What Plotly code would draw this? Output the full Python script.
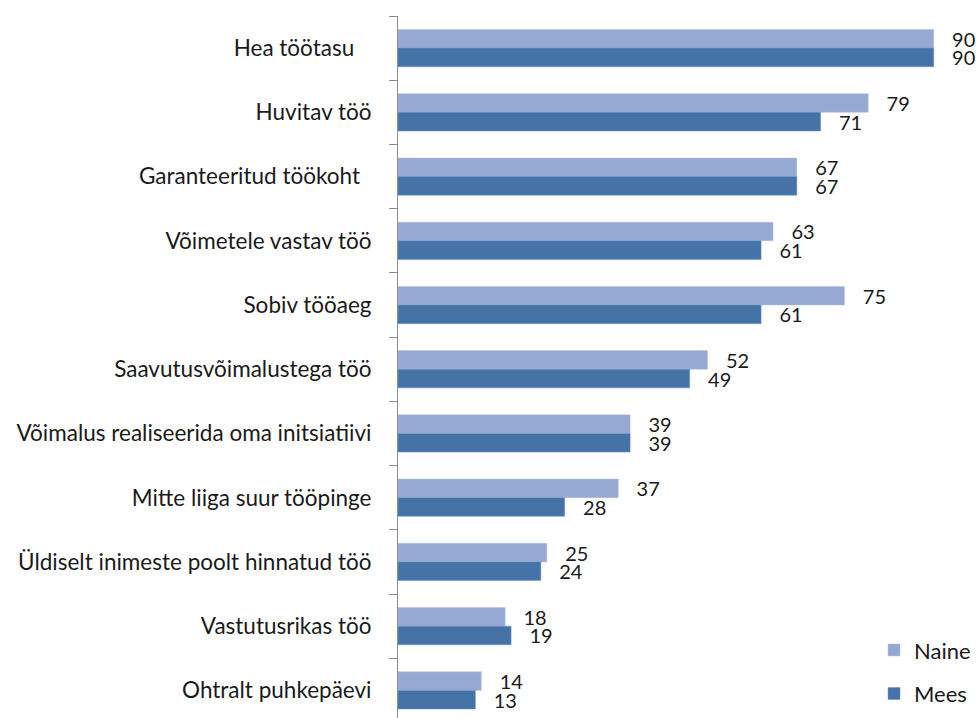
import plotly.graph_objects as go

categories = [
    "Hea töötasu\u00a0\u00a0\u00a0",
    "Huvitav töö",
    "Garanteeritud töökoht\u00a0\u00a0",
    "Võimetele vastav töö",
    "Sobiv tööaeg",
    "Saavutusvõimalustega töö",
    "Võimalus realiseerida oma initsiatiivi",
    "Mitte liiga suur tööpinge",
    "Üldiselt inimeste poolt hinnatud töö",
    "Vastutusrikas töö",
    "Ohtralt puhkepäevi",
]
naine = [90, 79, 67, 63, 75, 52, 39, 37, 25, 18, 14]
mees = [90, 71, 67, 61, 61, 49, 39, 28, 24, 19, 13]

FONT = "Lato, 'Open Sans', sans-serif"
PAD = "\u00a0\u00a0\u00a0"
TXT = "#1a1a1a"

fig = go.Figure()
fig.add_trace(go.Bar(
    name="Naine", y=categories, x=naine, orientation="h",
    marker=dict(color="#95A9D3", line=dict(color="#B3C3E3", width=0.5)),
    text=[PAD + str(v) for v in naine], textposition="outside",
    constraintext="none",
    textfont=dict(family=FONT, size=20, color=TXT),
    cliponaxis=False, legendgroup="a",
))
fig.add_trace(go.Bar(
    name="Mees", y=categories, x=mees, orientation="h",
    marker=dict(color="#4573A8", line=dict(color="#6F93C0", width=0.5)),
    text=[PAD + str(v) for v in mees], textposition="outside",
    constraintext="none",
    textfont=dict(family=FONT, size=20, color=TXT),
    cliponaxis=False, legendgroup="b",
))

fig.update_layout(
    width=976, height=718,
    margin=dict(l=398, r=0, t=16, b=0),
    paper_bgcolor="white", plot_bgcolor="white",
    barmode="group", bargap=0.42, bargroupgap=0,
    font=dict(family=FONT, size=22, color=TXT),
    legend=dict(
        x=1.0, y=0.004, xanchor="right", yanchor="bottom",
        font=dict(family=FONT, size=22, color=TXT),
        bgcolor="rgba(255,255,255,0)", tracegroupgap=12,
        itemwidth=30,
    ),
    showlegend=True,
)
fig.update_xaxes(range=[0, 97.1], visible=False, showgrid=False, zeroline=False)
fig.update_yaxes(
    type="category", range=[10.43, -0.5],
    showline=True, linecolor="#8C8C8C", linewidth=1,
    ticks="outside", ticklen=8, tickcolor="#8C8C8C", tickson="boundaries",
    ticklabelstandoff=21,
    tickfont=dict(family=FONT, size=22.5, color=TXT),
    showgrid=False, zeroline=False,
)

fig.write_html(
    "out.html",
    config={"displayModeBar": False},
    post_script="document.body.style.margin='0';document.body.style.overflow='hidden';",
)
